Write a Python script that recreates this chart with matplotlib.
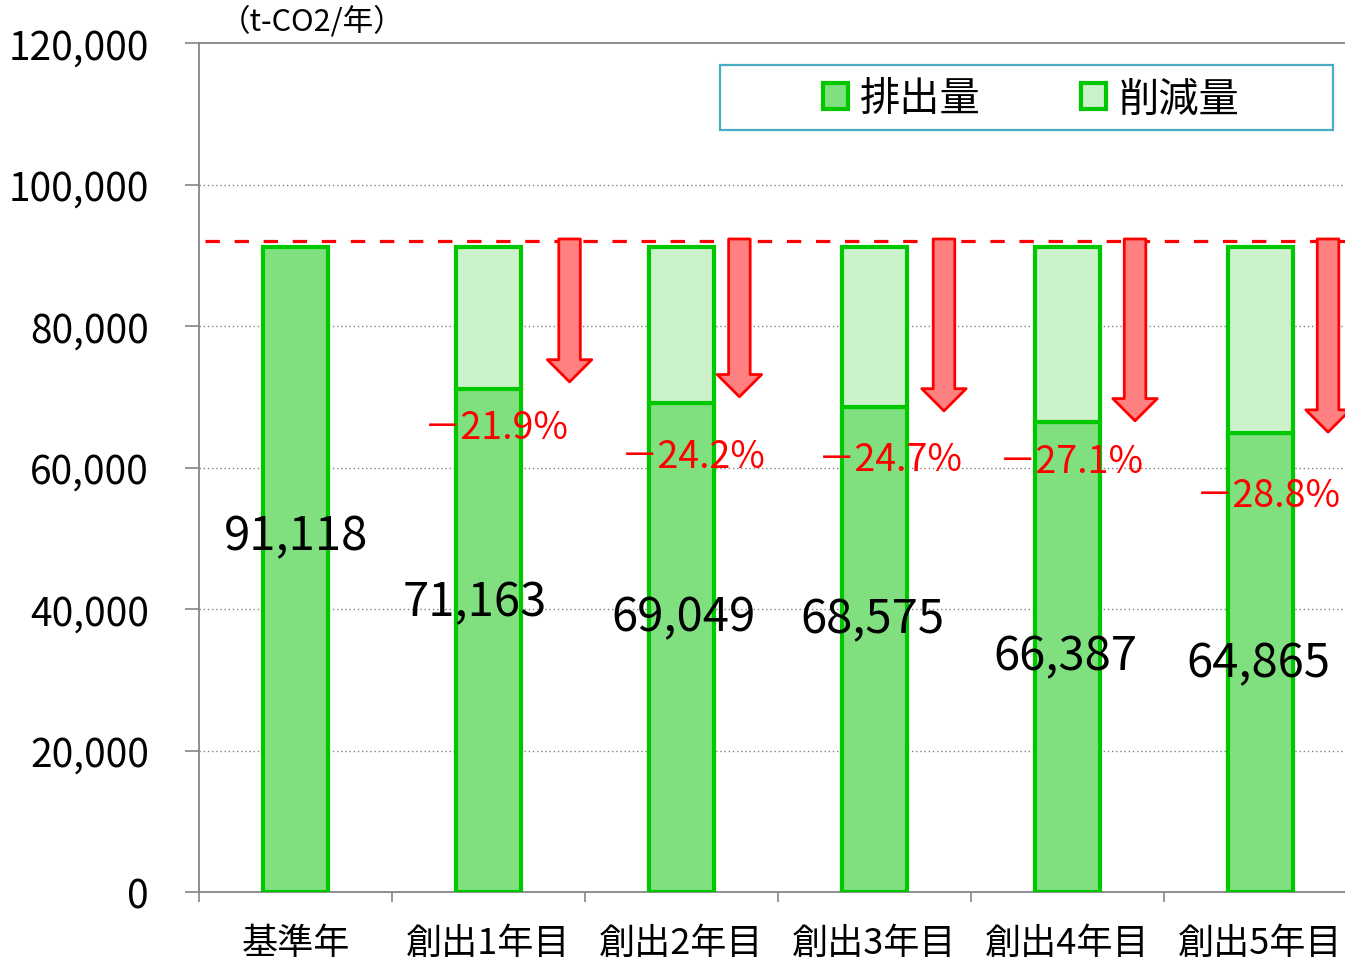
import matplotlib
matplotlib.use("Agg")
import matplotlib.pyplot as plt
from matplotlib.patches import Rectangle, Patch

plt.rcParams['font.family'] = ['Noto Sans CJK JP', 'DejaVu Sans']

# CO2 emissions per year (t-CO2/year)
categories = ['基準年', '創出1年目', '創出2年目', '創出3年目', '創出4年目', '創出5年目']
emissions = [91118, 71163, 69049, 68575, 66387, 64865]
reduction_pct = [21.9, 24.2, 24.7, 27.1, 28.8]
yticks = [0, 20000, 40000, 60000, 80000, 100000, 120000]

# label / arrow placement
value_dx = [0, -0.07, 0.01, -0.01, -0.01, -0.01]
value_y = [50300, 41000, 38900, 38600, 33400, 32400]
pct_dx = [0.04, 0.06, 0.08, 0.02, 0.04]
pct_y = [65700, 61500, 61100, 60900, 56000]
arrow_dx = [0.42, 0.30, 0.36, 0.35, 0.35]
arrow_bottom = [72100, 70000, 68000, 66600, 65000]
arrow_top = 92300
ref_line = 92000

dark = '#80e080'
light = '#ccf2cc'
edge = '#00c800'

base = emissions[0]
reductions = [base - e for e in emissions]
x = list(range(len(categories)))

fig = plt.figure(figsize=(13.45, 9.62), dpi=100)
ax = fig.add_axes([199 / 1345, 69 / 962, 1158 / 1345, 849 / 962])

ax.bar(x, emissions, width=0.34, color=dark, edgecolor=edge, linewidth=3, zorder=3, label='排出量')
ax.bar(x[1:], reductions[1:], bottom=emissions[1:], width=0.34, color=light,
       edgecolor=edge, linewidth=3, zorder=3, label='削減量')

ax.set_xlim(-0.5, 5.5)
ax.set_ylim(0, 120000)
ax.set_yticks(yticks)
ax.set_yticklabels([f'{v:,}' for v in yticks], fontsize=28)
ax.tick_params(axis='y', direction='out', length=10, width=1.2, color='#868686', pad=26)

ax.set_xticks(x)
ax.set_xticklabels(categories, fontsize=26)
ax.set_xticks([i - 0.5 for i in range(len(categories) + 1)], minor=True)
ax.tick_params(axis='x', which='major', length=0, pad=24)
ax.tick_params(axis='x', which='minor', direction='out', length=7, width=1.2, color='#868686')

for side in ['left', 'bottom', 'top']:
    ax.spines[side].set_color('#868686')
    ax.spines[side].set_linewidth(1.3)
ax.spines['right'].set_visible(False)

for v in yticks[1:-1]:
    ax.axhline(v, color='#808080', linewidth=1, linestyle=(0, (1, 2)), zorder=1)

ax.plot([-0.47, 5.5], [ref_line, ref_line], color='#ff0000', linewidth=2.3,
        linestyle=(0, (4.5, 4.6)), zorder=4, clip_on=False)

for i, e in enumerate(emissions):
    ax.text(i + value_dx[i], value_y[i], f'{e:,}', fontsize=34, ha='center', va='center', zorder=6)

for j, p in enumerate(reduction_pct):
    i = j + 1
    ax.text(i + pct_dx[j], pct_y[j], f'－{p}%', fontsize=27, color='#ff0000',
            ha='center', va='center', zorder=6)
    ax.annotate('', xy=(i + arrow_dx[j], arrow_bottom[j]), xytext=(i + arrow_dx[j], arrow_top),
                arrowprops=dict(arrowstyle='simple,head_length=1.6,head_width=3.2,tail_width=1.55',
                                fc='#ff8080', ec='#ff0000', lw=2, shrinkA=0, shrinkB=0,
                                mutation_scale=10),
                zorder=5, annotation_clip=False)

ax.text(0.018, 1.026, '（t-CO2/年）', transform=ax.transAxes, fontsize=22, ha='left', va='center')

# legend box
box = Rectangle((720 / 1345, 1 - 131 / 962), 613 / 1345, 65 / 962, transform=fig.transFigure,
                facecolor='white', edgecolor='#4bacc6', linewidth=1.6, zorder=7)
fig.patches.append(box)
handles = [Patch(facecolor=dark, edgecolor=edge, linewidth=3),
           Patch(facecolor=light, edgecolor=edge, linewidth=3)]
leg = fig.legend(handles, ['排出量', '削減量'], loc='center', bbox_to_anchor=(1031 / 1345, 1 - 100 / 962),
                 ncol=2, frameon=False, fontsize=29, handlelength=0.62, handleheight=0.62,
                 handletextpad=0.3, columnspacing=2.5, borderpad=0)
leg.set_zorder(8)

fig.savefig('out.png', dpi=100)
